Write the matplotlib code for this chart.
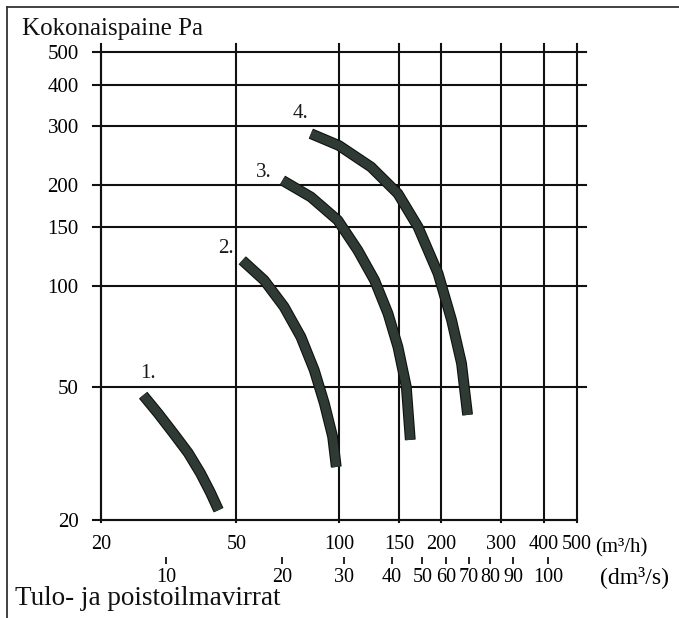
import matplotlib
matplotlib.use("Agg")
import matplotlib.pyplot as plt
import matplotlib.patheffects as pe
from matplotlib.lines import Line2D

plt.rcParams['font.family'] = ['Liberation Serif', 'DejaVu Serif']

# fan curves: airflow (m3/h) and total pressure (Pa)
curve1_q = [26.6, 29.4, 32.6, 36.1, 39.2, 41.9, 44.3]
curve1_p = [47.2, 41.7, 36.4, 31.7, 27.6, 24.2, 21.4]
curve2_q = [52.0, 60.3, 69.0, 77.3, 84.6, 90.6, 95.8, 98.2]
curve2_p = [119.4, 104.1, 86.7, 70.5, 56.1, 44.6, 35.5, 28.8]
curve3_q = [68.2, 82.7, 99.2, 113.6, 127.2, 139.3, 149.0, 157.7, 162.0]
curve3_p = [207.0, 184.6, 157.3, 127.9, 104.1, 82.8, 65.8, 50.0, 34.7]
curve4_q = [82.7, 100.0, 124.3, 149.0, 170.7, 195.5, 214.2, 229.1, 238.7]
curve4_p = [285.4, 263.0, 226.8, 188.9, 150.2, 109.0, 79.1, 58.7, 41.2]
curve_names = ['1.', '2.', '3.', '4.']

# axis ticks
y_ticks = [20, 50, 100, 150, 200, 300, 400, 500]
x_ticks = [20, 50, 100, 150, 200, 300, 400, 500]
dm3s_labels = ['10', '20', '30', '40', '50', '60', '70', '80', '90', '100', '130']
dm3s_at_m3h = [31.1, 67.9, 103.8, 143, 175.8, 206, 241, 278, 325, 412, 526]

fig = plt.figure(figsize=(6.79, 6.18), dpi=100)
ax = fig.add_axes([0.1487, 0.1586, 0.701, 0.757])
ax.set_xscale('log')
ax.set_yscale('log')
ax.set_xlim(20, 500)
ax.set_ylim(20, 500)

lw = 1.5
ink = '#111111'
for s in ['top', 'right']:
    ax.spines[s].set_visible(False)
for s in ['left', 'bottom']:
    ax.spines[s].set_linewidth(lw)
    ax.spines[s].set_color(ink)

# grid lines slightly overshooting the plot box
ytr = ax.get_yaxis_transform()
xtr = ax.get_xaxis_transform()
for v in y_ticks:
    x1 = 1.018 if v > 20 else 1.0
    ax.add_line(Line2D([-0.017, x1], [v, v], transform=ytr, color=ink,
                       lw=lw, clip_on=False))
for v in x_ticks:
    ax.add_line(Line2D([v, v], [-0.004, 1.017], transform=xtr, color=ink,
                       lw=lw, clip_on=False))

curves = [(curve1_q, curve1_p), (curve2_q, curve2_p),
          (curve3_q, curve3_p), (curve4_q, curve4_p)]
label_offsets = [(3.6, 15.5), (-11.5, 8.6), (-13, 5.8), (-7.2, 14.4)]
for (q, p), name, off in zip(curves, curve_names, label_offsets):
    ax.plot(q, p, color='#2f3a34', lw=6.2, solid_capstyle='butt',
            solid_joinstyle='round', zorder=5,
            path_effects=[pe.Stroke(linewidth=7.8, foreground='#0d1210'),
                          pe.Normal()])
    ax.annotate(name, (q[0], p[0]), xytext=off, textcoords='offset points',
                ha='center', va='center', fontsize=15, color='#1a1a1a')

ax.set_yticks(y_ticks)
ax.set_yticklabels([str(v) for v in y_ticks], fontsize=15)
ax.set_xticks(x_ticks)
ax.set_xticklabels([str(v) for v in x_ticks], fontsize=14.5)
ax.minorticks_off()
ax.tick_params(axis='both', length=0)
ax.tick_params(axis='y', pad=16)
ax.tick_params(axis='x', pad=11)

ax.annotate('(m³/h)', (500, 0), xycoords=xtr, xytext=(13, -20),
            textcoords='offset points', ha='left', va='center', fontsize=15)

sec = ax.secondary_xaxis(-0.08)
sec.spines['bottom'].set_visible(False)
sec.set_xticks(dm3s_at_m3h)
sec.set_xticklabels(dm3s_labels, fontsize=14.5)
sec.minorticks_off()
sec.tick_params(axis='x', length=5, width=1.2, pad=2.5, direction='out')
ax.annotate('(dm³/s)', (526, 0), xycoords=xtr, xytext=(11, -41),
            textcoords='offset points', ha='left', va='center', fontsize=17)

fig.text(0.032, 0.953, 'Kokonaispaine Pa', fontsize=18, ha='left', va='center',
         color=ink)
fig.text(0.022, 0.032, 'Tulo- ja poistoilmavirrat', fontsize=19.5, ha='left',
         va='center', color=ink)

# scanned page frame
fig.add_artist(Line2D([0.0103, 1.0], [0.988, 0.988], transform=fig.transFigure,
                      color='#333333', lw=1.3))
fig.add_artist(Line2D([0.0103, 0.0103], [0.0, 0.988], transform=fig.transFigure,
                      color='#333333', lw=1.3))

fig.savefig('out.png', dpi=100)
